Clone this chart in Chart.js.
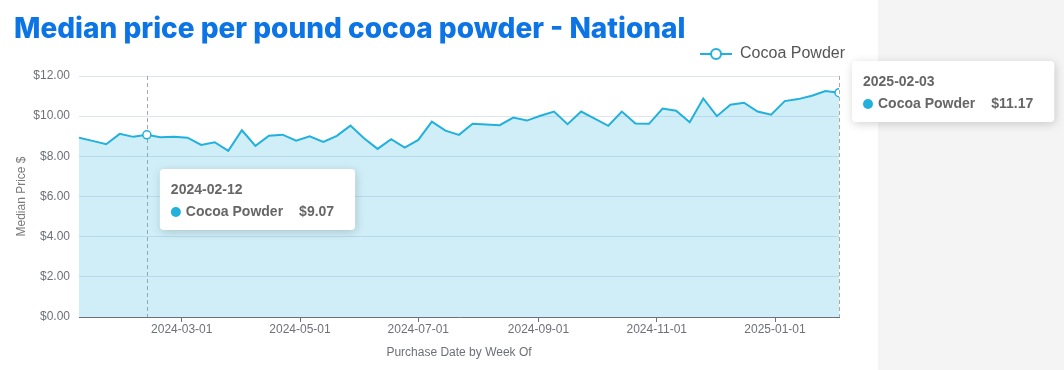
<!DOCTYPE html>
<html>
<head>
<meta charset="utf-8">
<script src="https://cdn.jsdelivr.net/npm/chart.js"></script>
<style>
  html, body { margin: 0; padding: 0; }
  body {
    width: 1064px; height: 370px; overflow: hidden;
    background: linear-gradient(to right, #ffffff 878px, #f4f4f4 878px);
  }
  #wrap { position: relative; width: 1064px; height: 370px; }
  #title {
    position: absolute; left: 14px; top: 14px; margin: 0;
    font-family: Inter, "Noto Sans", sans-serif; font-weight: 800;
    font-size: 28px; line-height: 28px; color: #0d74e6; white-space: nowrap;
  }
  canvas { position: absolute; left: 0; top: 0; }
</style>
</head>
<body>
<div id="wrap">
  <canvas id="cocoaChart" width="1064" height="370"></canvas>
  <h1 id="title">Median price per pound cocoa powder - National</h1>
</div>
<script>
// weekly purchase dates (week of)
const weeks = [
  '2024-01-08', '2024-01-15', '2024-01-22', '2024-01-29', '2024-02-05', '2024-02-12',
  '2024-02-19', '2024-02-26', '2024-03-04', '2024-03-11', '2024-03-18', '2024-03-25',
  '2024-04-01', '2024-04-08', '2024-04-15', '2024-04-22', '2024-04-29', '2024-05-06',
  '2024-05-13', '2024-05-20', '2024-05-27', '2024-06-03', '2024-06-10', '2024-06-17',
  '2024-06-24', '2024-07-01', '2024-07-08', '2024-07-15', '2024-07-22', '2024-07-29',
  '2024-08-05', '2024-08-12', '2024-08-19', '2024-08-26', '2024-09-02', '2024-09-09',
  '2024-09-16', '2024-09-23', '2024-09-30', '2024-10-07', '2024-10-14', '2024-10-21',
  '2024-10-28', '2024-11-04', '2024-11-11', '2024-11-18', '2024-11-25', '2024-12-02',
  '2024-12-09', '2024-12-16', '2024-12-23', '2024-12-30', '2025-01-06', '2025-01-13',
  '2025-01-20', '2025-01-27', '2025-02-03'
];
// median price per pound, $
const prices = [
  8.93, 8.77, 8.60, 9.12, 8.97, 9.07, 8.95, 8.98, 8.93, 8.57,
  8.70, 8.27, 9.30, 8.52, 9.03, 9.08, 8.78, 9.00, 8.72, 9.02,
  9.53, 8.90, 8.37, 8.85, 8.43, 8.82, 9.73, 9.28, 9.07, 9.62,
  9.58, 9.55, 9.93, 9.78, 10.02, 10.23, 9.60, 10.23, 9.88, 9.52,
  10.23, 9.63, 9.62, 10.38, 10.27, 9.70, 10.88, 10.00, 10.57, 10.67,
  10.23, 10.07, 10.75, 10.85, 11.02, 11.25, 11.17
];
const seriesName = 'Cocoa Powder';
const xTicks = ['2024-03-01', '2024-05-01', '2024-07-01', '2024-09-01', '2024-11-01', '2025-01-01'];
const yTicks = [0, 2, 4, 6, 8, 10, 12];
// weeks the reference shows a tooltip for
const shownWeeks = ['2024-02-12', '2025-02-03'];
const tipTops = [169, 61];

const lineColor = '#22b0dc';
const fillColor = 'rgba(34,176,220,0.21)';
const axisGrey = '#6e7079';
const fontFamily = '"Liberation Sans", Arial, Helvetica, sans-serif';

Chart.defaults.font.family = fontFamily;

// legend icon: line with hollow circle
const icon = document.createElement('canvas');
icon.width = 32; icon.height = 16;
(function () {
  const c = icon.getContext('2d');
  c.strokeStyle = lineColor; c.lineWidth = 2;
  c.beginPath(); c.moveTo(0, 8); c.lineTo(32, 8); c.stroke();
  c.beginPath(); c.arc(16, 8, 5, 0, Math.PI * 2);
  c.fillStyle = '#fff'; c.fill(); c.stroke();
})();

const shownIdx = shownWeeks.map(w => weeks.indexOf(w));
const points = weeks.map((w, i) => ({ x: Date.parse(w), y: prices[i] }));

function fmtDate(v) {
  return new Date(v).toISOString().slice(0, 10);
}

function drawTip(ctx, left, top, title, name, value) {
  ctx.save();
  ctx.font = 'bold 14px ' + fontFamily;
  const nameW = ctx.measureText(name).width;
  const valW = ctx.measureText(value).width;
  const titleW = ctx.measureText(title).width;
  const inner = Math.max(titleW, 15 + nameW + 16 + valW);
  const w = 11 + inner + 21, h = 61;
  ctx.shadowColor = 'rgba(0,0,0,0.18)';
  ctx.shadowBlur = 10;
  ctx.shadowOffsetX = 1;
  ctx.shadowOffsetY = 2;
  ctx.fillStyle = '#fff';
  ctx.beginPath();
  ctx.roundRect(left, top, w, h, 4);
  ctx.fill();
  ctx.shadowColor = 'transparent';
  ctx.textBaseline = 'middle';
  ctx.textAlign = 'left';
  ctx.fillStyle = '#666';
  ctx.fillText(title, left + 11, top + 21);
  ctx.fillStyle = lineColor;
  ctx.beginPath();
  ctx.arc(left + 16, top + 43, 5, 0, Math.PI * 2);
  ctx.fill();
  ctx.fillStyle = '#666';
  ctx.fillText(name, left + 26, top + 43);
  ctx.textAlign = 'right';
  ctx.fillText(value, left + w - 21, top + 43);
  ctx.restore();
}

const overlay = {
  id: 'overlay',
  afterLayout(chart) {
    // nudge legend into its place at the top right
    chart.legend.left += 16; chart.legend.right += 16;
    chart.legend.top -= 4; chart.legend.bottom -= 4;
  },
  beforeDatasetsDraw(chart) {
    const { ctx, chartArea, scales } = chart;
    ctx.save();
    ctx.strokeStyle = '#aaa';
    ctx.lineWidth = 1;
    ctx.setLineDash([4, 3]);
    shownIdx.forEach(i => {
      const x = Math.round(scales.x.getPixelForValue(points[i].x)) + 0.5;
      ctx.beginPath();
      ctx.moveTo(x, chartArea.top);
      ctx.lineTo(x, chartArea.bottom);
      ctx.stroke();
    });
    ctx.restore();
  },
  afterDraw(chart) {
    const { ctx, scales } = chart;
    shownIdx.forEach((i, k) => {
      const x = scales.x.getPixelForValue(points[i].x);
      drawTip(ctx, x + 13, tipTops[k], weeks[i], seriesName, '$' + prices[i].toFixed(2));
    });
  }
};

new Chart(document.getElementById('cocoaChart'), {
  type: 'line',
  data: {
    datasets: [{
      label: seriesName,
      data: points,
      borderColor: lineColor,
      backgroundColor: fillColor,
      borderWidth: 2,
      fill: 'origin',
      tension: 0,
      pointRadius: weeks.map((w, i) => shownIdx.includes(i) ? 4 : 0),
      pointBackgroundColor: '#fff',
      pointBorderColor: lineColor,
      pointBorderWidth: 1.5
    }]
  },
  options: {
    responsive: false,
    devicePixelRatio: 1,
    animation: false,
    events: [],
    layout: { padding: { top: 40, right: 225, bottom: 0, left: 0 } },
    plugins: {
      tooltip: { enabled: false },
      legend: {
        position: 'top',
        align: 'end',
        labels: {
          usePointStyle: true,
          pointStyle: icon,
          pointStyleWidth: 32,
          boxHeight: 16,
          padding: 10,
          color: '#555',
          font: { size: 16 }
        }
      }
    },
    scales: {
      x: {
        type: 'linear',
        min: Date.parse(weeks[0]),
        max: Date.parse(weeks[weeks.length - 1]),
        afterBuildTicks(scale) {
          scale.ticks = xTicks.map(d => ({ value: Date.parse(d) }));
        },
        afterFit(scale) { scale.height = 53; },
        grid: { display: true, drawOnChartArea: false, drawTicks: true, tickLength: 5, color: axisGrey },
        border: { display: true, color: axisGrey, width: 1 },
        ticks: {
          autoSkip: false,
          maxRotation: 0,
          padding: 0,
          color: axisGrey,
          font: { size: 12 },
          callback: v => fmtDate(v)
        },
        title: {
          display: true,
          text: 'Purchase Date by Week Of',
          color: axisGrey,
          font: { size: 12 },
          padding: { top: 4, bottom: 10 }
        }
      },
      y: {
        min: yTicks[0],
        max: yTicks[yTicks.length - 1],
        afterBuildTicks(scale) {
          scale.ticks = yTicks.map(v => ({ value: v }));
        },
        afterFit(scale) { scale.width = 79; },
        grid: { color: '#e0e6f1', drawTicks: false },
        border: { display: false },
        ticks: {
          padding: 9,
          color: axisGrey,
          font: { size: 12 },
          callback: v => '$' + v.toFixed(2)
        },
        title: {
          display: true,
          text: 'Median Price $',
          color: '#7a7a7a',
          font: { size: 12 },
          padding: { top: 14, bottom: 0 }
        }
      }
    }
  },
  plugins: [overlay]
});
</script>
</body>
</html>
